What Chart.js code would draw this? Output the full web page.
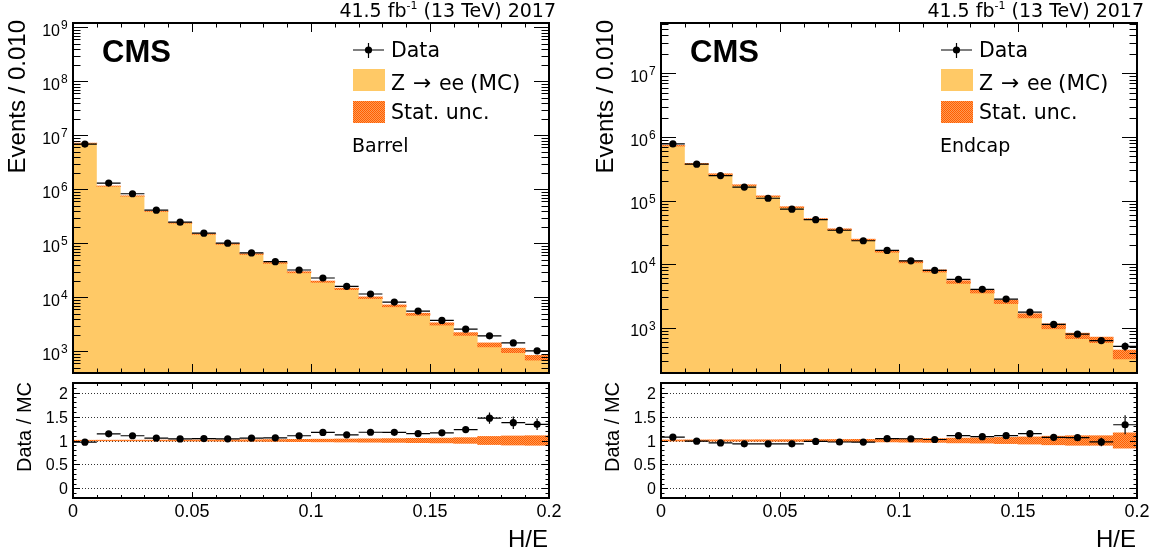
<!DOCTYPE html>
<html>
<head>
<meta charset="utf-8">
<title>H/E barrel and endcap</title>
<script src="https://cdn.jsdelivr.net/npm/chart.js@4.4.1/dist/chart.umd.min.js"></script>
<style>
  body { margin: 0; background: #fff; }
  #wrap { position: relative; width: 1154px; height: 557px; background: #fff; }
  #wrap canvas { position: absolute; left: 0; top: 0; }
</style>
</head>
<body>
<div id="wrap">
  <canvas id="barrelMain" width="1154" height="557"></canvas>
  <canvas id="barrelRatio" width="1154" height="557"></canvas>
  <canvas id="endcapMain" width="1154" height="557"></canvas>
  <canvas id="endcapRatio" width="1154" height="557"></canvas>
</div>
<script>
// H/E binning, 0.01 wide
const binEdges = [0, 0.01, 0.02, 0.03, 0.04, 0.05, 0.06, 0.07, 0.08, 0.09, 0.1,
                  0.11, 0.12, 0.13, 0.14, 0.15, 0.16, 0.17, 0.18, 0.19, 0.2];
const xTickValues = [0, 0.05, 0.1, 0.15, 0.2];
const xTickLabels = ['0', '0.05', '0.1', '0.15', '0.2'];
const ratioTickValues = [0, 0.5, 1, 1.5, 2];
const ratioTickLabels = ['0', '0.5', '1', '1.5', '2'];

// barrel
const barrelData = [6.9e6, 1.31e6, 8.3e5, 4.13e5, 2.47e5, 1.55e5, 1.01e5, 6.67e4, 4.6e4, 3.22e4,
                    2.29e4, 1.61e4, 1.16e4, 8.2e3, 5.6e3, 3.76e3, 2.59e3, 1.95e3, 1.44e3, 1.03e3];
const barrelMC = [7.15e6, 1.15e6, 7.55e5, 3.93e5, 2.39e5, 1.49e5, 9.76e4, 6.35e4, 4.36e4, 2.93e4,
                  1.96e4, 1.44e4, 9.9e3, 7.0e3, 4.89e3, 3.24e3, 2.11e3, 1.33e3, 1.05e3, 7.7e2];
const barrelStatUnc = [0.006, 0.007, 0.008, 0.009, 0.01, 0.012, 0.014, 0.016, 0.02, 0.024,
                       0.028, 0.032, 0.036, 0.04, 0.045, 0.05, 0.06, 0.085, 0.095, 0.1];
const barrelDataErr = [0.0004, 0.001, 0.0011, 0.0016, 0.002, 0.0025, 0.003, 0.004, 0.005, 0.006,
                       0.007, 0.008, 0.01, 0.012, 0.014, 0.017, 0.03, 0.08, 0.095, 0.09];
const barrelDecades = [3, 4, 5, 6, 7, 8, 9];

// endcap
const endcapData = [7.8e5, 3.74e5, 2.48e5, 1.63e5, 1.09e5, 7.33e4, 5.02e4, 3.42e4, 2.34e4, 1.65e4,
                    1.13e4, 8.0e3, 5.78e3, 4.03e3, 2.83e3, 1.77e3, 1.13e3, 7.94e2, 6.3e2, 5.13e2];
const endcapMC = [7.29e5, 3.79e5, 2.61e5, 1.75e5, 1.17e5, 7.88e4, 5.12e4, 3.53e4, 2.42e4, 1.59e4,
                  1.09e4, 7.84e3, 5.25e3, 3.73e3, 2.57e3, 1.55e3, 1.06e3, 7.5e2, 6.5e2, 3.86e2];
const endcapStatUnc = [0.012, 0.013, 0.014, 0.015, 0.016, 0.018, 0.02, 0.022, 0.025, 0.03,
                       0.035, 0.04, 0.05, 0.055, 0.065, 0.075, 0.09, 0.1, 0.1, 0.16];
const endcapDataErr = [0.0012, 0.0017, 0.002, 0.0025, 0.003, 0.0037, 0.0045, 0.0055, 0.0065, 0.008,
                       0.0095, 0.011, 0.013, 0.016, 0.02, 0.03, 0.05, 0.065, 0.09, 0.15];
const endcapDecades = [3, 4, 5, 6, 7];

const FONT = '"Liberation Sans", Arial, Helvetica, sans-serif';
const WIDE = '"DejaVu Sans", Verdana, sans-serif';
const MC_COLOR = '#ffc966';
const W = 1154, H = 557;

const binCenters = binEdges.slice(0, -1).map((e, i) => (e + binEdges[i + 1]) / 2);

function setFont(ctx, size, weight, family) {
  ctx.font = (weight || 'normal') + ' ' + size + 'px ' + (family || FONT);
}

function text(ctx, str, x, y, size, align, weight, family) {
  setFont(ctx, size, weight, family);
  ctx.textAlign = align || 'left';
  ctx.textBaseline = 'alphabetic';
  ctx.fillText(str, x, y);
}

// fine orange checker used for the MC stat. band
function statPattern(ctx) {
  const c = document.createElement('canvas');
  c.width = 2; c.height = 2;
  const g = c.getContext('2d');
  g.fillStyle = '#ff9a55';
  g.fillRect(0, 0, 2, 2);
  g.fillStyle = '#ff5f00';
  g.fillRect(0, 0, 1, 1);
  g.fillRect(1, 1, 1, 1);
  return ctx.createPattern(c, 'repeat');
}

function isMajorX(v) {
  return xTickValues.some(t => Math.abs(t - v) < 1e-9);
}

function logTicks(min, max) {
  const out = [];
  for (let d = Math.floor(Math.log10(min)); d <= Math.ceil(Math.log10(max)); d++) {
    for (let k = 1; k <= 9; k++) {
      const v = k * Math.pow(10, d);
      if (v > min && v < max) out.push({ v, major: k === 1 });
    }
  }
  return out;
}

function drawErrorBars(chart, values, relErr) {
  const { ctx, scales: { x, y } } = chart;
  ctx.save();
  ctx.strokeStyle = '#000';
  ctx.lineWidth = 1.2;
  ctx.beginPath();
  values.forEach((v, i) => {
    const py = y.getPixelForValue(v);
    const px = x.getPixelForValue(binCenters[i]);
    ctx.moveTo(x.getPixelForValue(binEdges[i]), py);
    ctx.lineTo(x.getPixelForValue(binEdges[i + 1]), py);
    const e = v * relErr[i];
    ctx.moveTo(px, y.getPixelForValue(v - e));
    ctx.lineTo(px, y.getPixelForValue(v + e));
  });
  ctx.stroke();
  ctx.restore();
}

// inward ticks on all four sides plus the frame
function drawFrame(chart, yTicks, len) {
  const { ctx, chartArea: a, scales: { x, y } } = chart;
  ctx.save();
  ctx.strokeStyle = '#000';
  ctx.lineWidth = 1;
  ctx.beginPath();
  binEdges.forEach(v => {
    if (v <= x.min || v >= x.max) return;
    const px = Math.round(x.getPixelForValue(v)) + 0.5;
    const l = isMajorX(v) ? len.xMajor : len.xMinor;
    ctx.moveTo(px, a.bottom); ctx.lineTo(px, a.bottom - l);
    ctx.moveTo(px, a.top); ctx.lineTo(px, a.top + l);
  });
  yTicks.forEach(t => {
    const py = Math.round(y.getPixelForValue(t.v)) + 0.5;
    const l = t.major ? len.yMajor : len.yMinor;
    ctx.moveTo(a.left, py); ctx.lineTo(a.left + l, py);
    ctx.moveTo(a.right, py); ctx.lineTo(a.right - l, py);
  });
  ctx.stroke();
  ctx.lineWidth = 2;
  ctx.strokeRect(a.left, a.top, a.right - a.left, a.bottom - a.top);
  ctx.restore();
}

function mainDecor(p) {
  return {
    id: 'mainDecor',
    beforeDatasetDraw(chart, args) {
      if (args.index === 0) drawErrorBars(chart, p.data, p.dataErr);
    },
    afterDatasetsDraw(chart) {
      const { ctx, chartArea: a, scales: { y } } = chart;
      drawFrame(chart, logTicks(y.min, y.max), { xMajor: 9, xMinor: 4.5, yMajor: 15, yMinor: 7.5 });
      const s = p.shift;
      ctx.save();
      ctx.fillStyle = '#000';

      // y tick labels 10^n
      p.decades.forEach(d => {
        const py = y.getPixelForValue(Math.pow(10, d));
        text(ctx, '10', a.left - 13, py + 8.5, 16, 'right');
        text(ctx, String(d), a.left - 12, py + 2, 12, 'left');
      });

      // axis title
      ctx.save();
      ctx.translate(18 + s, 20);
      ctx.rotate(-Math.PI / 2);
      setFont(ctx, 24);
      ctx.textAlign = 'right';
      ctx.textBaseline = 'middle';
      ctx.fillText('Events / 0.010', 0, 0);
      ctx.restore();

      // CMS label and luminosity
      text(ctx, 'CMS', 102 + s, 62, 31, 'left', 'bold');
      const right = 556 + s;
      setFont(ctx, 19, 'normal', WIDE);
      const w1 = ctx.measureText('41.5 fb').width;
      const w3 = ctx.measureText(' (13 TeV) 2017').width;
      setFont(ctx, 11, 'normal', WIDE);
      const w2 = ctx.measureText('-1').width;
      const x0 = right - w1 - w2 - w3;
      text(ctx, '41.5 fb', x0, 17, 19, 'left', 'normal', WIDE);
      text(ctx, '-1', x0 + w1, 9, 11, 'left', 'normal', WIDE);
      text(ctx, ' (13 TeV) 2017', x0 + w1 + w2, 17, 19, 'left', 'normal', WIDE);

      // legend
      const lx = 353 + s;
      ctx.strokeStyle = '#000';
      ctx.lineWidth = 1.2;
      ctx.beginPath();
      ctx.moveTo(lx, 50); ctx.lineTo(lx + 31, 50);
      ctx.moveTo(lx + 15.5, 43); ctx.lineTo(lx + 15.5, 58);
      ctx.stroke();
      ctx.beginPath();
      ctx.arc(lx + 15.5, 50, 3.6, 0, Math.PI * 2);
      ctx.fill();
      ctx.fillStyle = MC_COLOR;
      ctx.fillRect(lx, 69, 32, 22);
      ctx.fillStyle = p.pattern;
      ctx.fillRect(lx, 101, 32, 22);
      ctx.fillStyle = '#000';
      text(ctx, 'Data', lx + 38, 57, 20.5, 'left', 'normal', WIDE);
      text(ctx, 'Z', lx + 38, 89.5, 20.5, 'left', 'normal', WIDE);
      text(ctx, '\u2192', lx + 60, 89.5, 22, 'left', 'normal', WIDE);
      text(ctx, 'ee', lx + 86, 89.5, 20.5, 'left', 'normal', WIDE);
      text(ctx, '(MC)', lx + 117, 89.5, 21.5, 'left', 'normal', WIDE);
      text(ctx, 'Stat. unc.', lx + 38, 119, 20.5, 'left', 'normal', WIDE);
      text(ctx, p.region, lx - 1, 152, 19, 'left', 'normal', WIDE);
      ctx.restore();
    }
  };
}

function ratioDecor(p) {
  return {
    id: 'ratioDecor',
    beforeDatasetsDraw(chart) {
      const { ctx, chartArea: a, scales: { y } } = chart;
      ctx.save();
      ctx.strokeStyle = '#333';
      ctx.lineWidth = 1;
      ctx.setLineDash([1, 2]);
      ctx.beginPath();
      ratioTickValues.forEach(v => {
        const py = Math.round(y.getPixelForValue(v)) + 0.5;
        ctx.moveTo(a.left, py); ctx.lineTo(a.right, py);
      });
      ctx.stroke();
      ctx.restore();
    },
    beforeDatasetDraw(chart, args) {
      if (args.index === 0) drawErrorBars(chart, p.ratio, p.dataErr);
    },
    afterDatasetsDraw(chart) {
      const { ctx, chartArea: a, scales: { x, y } } = chart;
      const yTicks = [];
      for (let i = -1; i <= 21; i++) {
        yTicks.push({ v: i / 10, major: i % 5 === 0 });
      }
      drawFrame(chart, yTicks, { xMajor: 6, xMinor: 3, yMajor: 7, yMinor: 3.5 });
      const s = p.shift;
      ctx.save();
      ctx.fillStyle = '#000';
      ratioTickValues.forEach((v, i) => {
        text(ctx, ratioTickLabels[i], a.left - 5, y.getPixelForValue(v) + 6, 16, 'right');
      });
      xTickValues.forEach((v, i) => {
        text(ctx, xTickLabels[i], x.getPixelForValue(v), 516.5, 18, 'center');
      });
      text(ctx, 'H/E', 548 + s, 547, 24, 'right');
      ctx.save();
      ctx.translate(25 + s, 382);
      ctx.rotate(-Math.PI / 2);
      setFont(ctx, 20);
      ctx.textAlign = 'right';
      ctx.textBaseline = 'middle';
      ctx.fillText('Data / MC', 0, 0);
      ctx.restore();
      ctx.restore();
    }
  };
}

function baseOptions(pad, yScale) {
  return {
    animation: false,
    responsive: false,
    devicePixelRatio: 1,
    layout: { padding: pad },
    plugins: { legend: { display: false }, tooltip: { enabled: false } },
    scales: {
      x: { type: 'linear', min: 0, max: 0.2, offset: false, display: false },
      y: Object.assign({ display: false }, yScale)
    }
  };
}

function buildPanel(ids, p) {
  const left = 73 + p.shift;
  const right = 549 + p.shift;

  // upper pad: event counts on a log scale
  const mainCtx = document.getElementById(ids[0]).getContext('2d');
  p.pattern = statPattern(mainCtx);
  const steps = binEdges.map((e, i) => ({ x: e, y: p.mc[Math.min(i, p.mc.length - 1)] }));
  new Chart(mainCtx, {
    type: 'scatter',
    data: {
      datasets: [
        {
          type: 'scatter',
          data: binCenters.map((c, i) => ({ x: c, y: p.data[i] })),
          backgroundColor: '#000', borderWidth: 0, pointRadius: 3.6, order: 0
        },
        {
          type: 'bar',
          data: binCenters.map((c, i) => ({ x: c, y: [p.mc[i] * (1 - p.unc[i]), p.mc[i] * (1 + p.unc[i])] })),
          backgroundColor: p.pattern, borderWidth: 0,
          barPercentage: 1, categoryPercentage: 1, order: 1
        },
        {
          type: 'line', data: steps, stepped: 'before', fill: 'start',
          backgroundColor: MC_COLOR, borderColor: 'transparent', borderWidth: 0,
          pointRadius: 0, order: 2
        }
      ]
    },
    options: baseOptions(
      { left, right: W - right, top: 23, bottom: H - 373 },
      { type: 'logarithmic', min: p.yMin, max: p.yMax }
    ),
    plugins: [mainDecor(p)]
  });

  // lower pad: data / MC
  const ratioCtx = document.getElementById(ids[1]).getContext('2d');
  p.ratio = p.data.map((d, i) => d / p.mc[i]);
  new Chart(ratioCtx, {
    type: 'scatter',
    data: {
      datasets: [
        {
          type: 'scatter',
          data: binCenters.map((c, i) => ({ x: c, y: p.ratio[i] })),
          backgroundColor: '#000', borderWidth: 0, pointRadius: 3.6, order: 0
        },
        {
          type: 'bar',
          data: binCenters.map((c, i) => ({ x: c, y: [1 - p.unc[i], 1 + p.unc[i]] })),
          backgroundColor: statPattern(ratioCtx), borderWidth: 0,
          barPercentage: 1, categoryPercentage: 1, order: 1
        }
      ]
    },
    options: baseOptions(
      { left, right: W - right, top: 383, bottom: H - 498 },
      { type: 'linear', min: -0.2, max: 2.2 }
    ),
    plugins: [ratioDecor(p)]
  });
}

buildPanel(['barrelMain', 'barrelRatio'], {
  shift: 0, region: 'Barrel',
  data: barrelData, mc: barrelMC, unc: barrelStatUnc, dataErr: barrelDataErr,
  yMin: 400, yMax: 1.2e9, decades: barrelDecades
});
buildPanel(['endcapMain', 'endcapRatio'], {
  shift: 588, region: 'Endcap',
  data: endcapData, mc: endcapMC, unc: endcapStatUnc, dataErr: endcapDataErr,
  yMin: 195, yMax: 6.2e7, decades: endcapDecades
});
</script>
</body>
</html>
